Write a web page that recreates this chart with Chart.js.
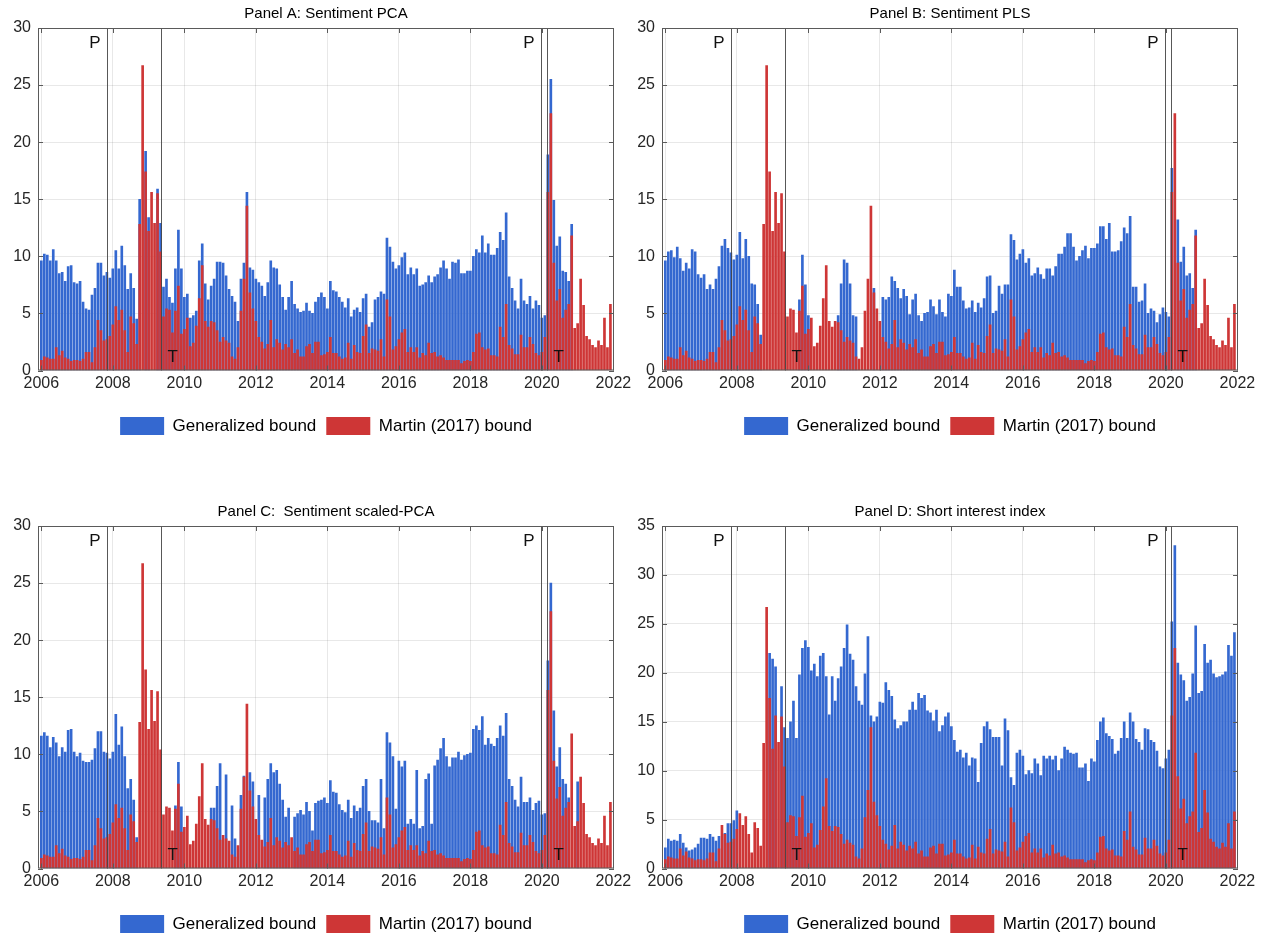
<!DOCTYPE html>
<html>
<head>
<meta charset="utf-8">
<script src="https://cdn.jsdelivr.net/npm/chart.js@4"></script>
<style>
  html, body { margin:0; padding:0; background:#fff; overflow:hidden; }
  canvas { position:absolute; }
</style>
</head>
<body>
<canvas id="panelA" width="635" height="445" style="left:0;top:0"></canvas>
<canvas id="panelB" width="635" height="445" style="left:624px;top:0"></canvas>
<canvas id="panelC" width="635" height="445" style="left:0;top:498px"></canvas>
<canvas id="panelD" width="635" height="445" style="left:624px;top:498px"></canvas>
<script>
// ===== data: monthly, Jan 2006 (index 0) .. Dec 2021 (index 191) =====
const yearTicks  = [0, 24, 48, 72, 96, 120, 144, 168, 192];
const yearLabels = ['2006','2008','2010','2012','2014','2016','2018','2020','2022'];

// NBER peak / trough markers (month index)
const recessionAt   = [21.9, 40.0, 167.8, 169.8];
const recessionTags = ['P', 'T', 'P', 'T'];

// Martin (2017) bound — same in all panels
const martinBound = [
  0.9,1.2,1.1,1.0,1.0,2.0,1.3,1.7,1.1,1.0,
  0.8,0.9,0.9,0.8,1.0,1.6,1.6,0.7,2.0,4.4,
  3.5,2.6,2.7,3.0,4.0,5.6,4.4,5.3,3.5,1.6,
  4.7,4.1,2.3,12.8,26.7,17.4,12.2,15.6,12.9,15.5,
  10.4,4.7,5.4,5.3,3.3,5.2,7.4,3.2,3.6,4.6,
  2.1,2.4,3.9,6.3,9.2,4.3,3.8,4.3,4.2,3.5,
  2.5,2.9,2.6,2.4,1.2,1.0,2.0,5.2,8.0,14.4,
  6.8,5.4,4.3,2.9,2.5,1.9,2.3,4.4,2.0,2.7,
  2.4,1.8,2.3,2.0,2.7,1.5,1.8,1.2,1.2,2.1,
  2.3,1.5,2.5,2.5,1.3,1.4,1.6,2.9,1.5,1.5,
  1.2,1.0,1.1,2.4,1.0,2.2,1.6,1.5,3.0,4.0,
  1.5,1.9,1.8,1.7,2.7,1.2,6.2,4.7,1.8,2.1,
  2.7,3.3,3.6,1.6,2.0,1.6,2.0,1.1,1.5,1.3,
  2.4,1.5,1.6,1.2,1.3,1.1,0.9,0.9,0.9,0.9,
  0.9,0.6,0.8,0.9,0.8,1.6,3.2,3.3,2.0,1.8,
  1.9,1.3,1.3,1.2,3.8,2.9,5.8,2.2,1.9,1.4,
  1.4,3.1,2.0,2.0,2.9,2.3,1.5,1.3,1.6,2.9,
  15.6,22.5,9.4,6.1,7.1,4.6,5.3,5.8,11.8,3.7,
  4.1,8.0,5.7,3.0,2.7,2.2,2.0,2.6,2.2,4.6,
  2.0,5.8
];

const _ = null;

// Generalized bound, Panel A (sentiment PCA)
const pcaBound = [
  9.6,10.2,10.1,9.6,10.6,9.6,8.5,8.6,7.8,9.1,
  9.2,7.7,7.6,7.8,6.0,5.4,5.3,6.6,7.2,9.4,
  9.4,8.3,8.6,8.1,8.9,10.5,8.9,10.9,9.2,7.1,
  8.5,7.2,4.5,15.0,_,19.2,13.4,_,_,15.9,
  12.9,7.3,8.0,6.4,5.9,8.9,12.3,8.9,6.4,6.7,
  4.6,4.8,5.2,9.6,11.1,7.6,6.2,7.4,8.0,9.5,
  9.5,9.4,8.3,7.1,6.5,6.0,4.3,8.0,9.4,15.6,
  9.0,8.8,8.0,7.7,7.4,6.5,7.7,9.6,9.0,8.9,
  7.5,6.4,5.3,6.4,7.8,5.8,5.4,5.1,5.2,5.9,
  5.2,5.0,6.0,6.4,6.8,6.4,5.4,7.8,7.0,6.9,
  6.4,6.0,5.5,6.3,4.7,5.3,5.5,5.1,6.3,6.7,
  3.8,4.2,6.2,6.4,6.9,6.7,11.6,10.8,9.5,8.9,
  9.2,9.9,10.3,8.4,9.0,8.4,8.9,7.4,7.5,7.7,
  8.3,7.7,8.2,8.4,9.0,9.6,8.9,8.0,9.5,9.4,
  9.7,8.5,8.5,8.7,8.7,10.0,10.6,10.3,11.8,10.3,
  11.1,10.1,10.1,10.7,12.1,11.4,13.8,8.2,7.2,6.1,
  5.4,8.0,6.1,5.8,6.5,5.4,6.1,5.7,4.6,4.8,
  18.9,25.5,14.9,10.9,11.7,8.7,8.6,7.8,12.8,_,
  _,_,_,_,_,_,_,_,_,_,
  _,_
];

// Generalized bound, Panel B (sentiment PLS)
const plsBound = [
  9.6,10.4,10.5,9.9,10.8,9.8,8.7,9.4,8.9,10.6,
  10.4,8.4,8.1,8.4,7.1,7.5,7.1,8.0,9.1,10.9,
  11.5,10.7,10.3,9.7,10.1,12.1,9.8,11.5,10.0,7.6,
  7.5,5.8,3.1,_,_,_,_,_,_,_,
  _,_,_,_,_,6.2,10.1,7.5,4.8,_,
  _,_,_,_,_,_,_,_,4.8,7.6,
  9.7,9.4,7.6,4.8,4.7,_,_,_,_,_,
  7.2,_,_,6.4,6.2,6.4,8.2,7.8,7.2,6.3,
  7.1,6.5,4.9,6.2,6.7,4.8,4.3,5.0,5.1,6.2,
  5.6,4.9,6.2,5.1,4.7,6.7,6.5,8.8,7.3,7.3,
  6.1,5.4,5.5,6.1,5.1,5.9,5.5,6.3,8.2,8.3,
  5.0,5.2,7.4,6.7,7.5,7.5,11.9,11.4,9.7,10.2,
  10.6,9.4,9.8,8.3,8.5,9.0,8.4,8.0,8.9,8.9,
  8.3,9.1,10.2,10.2,10.8,12.0,12.0,10.8,9.6,10.0,
  10.5,10.9,9.8,10.7,10.7,11.1,12.6,12.6,11.5,12.9,
  10.4,10.4,10.5,11.3,12.5,12.0,13.5,7.3,7.3,6.0,
  6.1,7.6,5.0,5.4,5.2,4.2,4.9,5.5,5.1,4.7,
  17.7,_,13.2,9.5,10.8,8.3,8.5,7.2,12.3,_,
  _,_,_,_,_,_,_,_,_,_,
  _,_
];

// Generalized bound, Panel C (sentiment scaled-PCA)
const scaledPcaBound = [
  11.6,11.9,11.6,10.6,11.5,11.0,9.8,10.6,10.2,12.1,
  12.2,10.2,9.8,10.1,9.4,9.3,9.3,9.5,10.5,12.0,
  12.0,10.2,10.1,9.6,10.2,13.5,10.8,12.4,9.8,7.0,
  7.8,6.0,2.7,_,_,_,_,_,_,_,
  _,_,_,_,_,5.5,9.3,5.4,_,_,
  _,_,_,_,_,_,_,5.3,5.3,7.2,
  9.2,_,8.2,_,5.5,2.6,_,6.4,8.1,_,
  8.4,7.6,_,6.4,_,6.2,7.8,9.2,8.4,8.6,
  7.4,6.0,4.5,5.3,_,4.5,4.8,5.1,4.7,5.8,
  5.0,3.3,5.7,5.9,6.0,6.2,5.7,7.7,6.7,6.6,
  5.6,5.1,4.9,6.0,4.4,5.5,5.0,5.3,7.2,7.8,
  5.0,4.2,4.2,4.0,7.8,3.5,11.9,11.0,9.8,5.2,
  9.4,8.9,9.4,3.9,4.3,3.9,8.6,3.5,3.7,7.8,
  8.3,3.9,9.0,9.5,10.5,11.4,9.8,8.9,9.7,9.7,
  10.2,9.5,9.9,10.0,10.1,12.2,12.5,12.1,13.3,10.8,
  11.4,10.9,10.7,11.4,12.5,11.6,13.6,7.8,7.2,6.0,
  5.4,8.0,5.8,5.8,6.2,5.1,5.7,5.9,4.7,4.8,
  18.2,25.0,13.8,8.9,10.6,7.8,7.4,6.2,_,_,
  7.6,_,_,_,_,_,_,_,_,_,
  _,_
];

// Generalized bound, Panel D (short interest index)
const shortInterestBound = [
  2.1,3.0,2.8,2.9,2.8,3.5,2.6,2.1,1.8,1.9,
  2.1,2.5,3.1,3.1,3.0,3.5,3.2,2.8,3.3,_,
  3.6,4.6,4.6,4.9,5.9,_,_,_,_,_,
  _,_,_,_,_,22.0,21.4,20.6,_,18.6,
  14.4,13.3,15.0,17.1,13.3,19.8,22.5,23.3,22.6,20.2,
  20.9,19.6,21.7,22.0,19.6,15.7,19.6,17.1,19.4,20.6,
  22.5,24.9,21.9,21.3,18.6,17.1,16.7,19.9,23.7,15.6,
  15.0,15.5,17.0,16.9,19.0,18.2,17.6,15.2,14.3,14.6,
  15.0,15.0,16.2,17.0,16.2,17.9,17.4,17.7,16.1,15.9,
  15.1,16.2,14.0,14.6,15.5,15.9,14.5,13.1,11.9,12.1,
  11.3,11.8,10.5,11.3,11.2,8.8,12.8,14.5,15.0,14.2,
  13.4,13.4,13.4,10.5,15.3,14.1,9.3,8.5,11.8,12.1,
  11.5,9.6,10.0,9.7,11.2,10.7,9.5,11.5,11.2,11.5,
  11.1,11.5,10.0,11.2,12.4,12.1,11.8,11.7,11.8,10.3,
  10.3,10.7,8.9,11.2,10.9,13.1,15.0,15.4,13.8,13.5,
  13.2,11.7,12.0,13.3,15.0,13.3,15.9,15.0,13.2,12.9,
  12.1,14.3,14.2,13.1,12.9,12.0,10.4,10.2,11.2,12.1,
  25.2,33.0,21.0,19.8,19.2,17.1,17.5,19.9,24.8,17.9,
  18.1,22.9,21.0,21.3,19.9,19.5,19.6,19.8,20.1,22.8,
  21.7,24.1
];

// ===== style =====
const FONT  = '"Liberation Sans", Arial, Helvetica, sans-serif';
const BLUE  = 'rgb(52,104,208)';
const RED   = 'rgb(206,54,54)';
const GRID  = 'rgba(0,0,0,0.09)';
const AXIS  = '#5a5a5a';
const TEXT  = '#262626';

const toPoints = arr => arr.map((v, i) => ({ x: i, y: v }));

// box, inside ticks, recession lines and P / T tags
const framePlugin = {
  id: 'frame',
  afterDatasetsDraw(chart) {
    const { ctx, chartArea: a, scales: { x, y } } = chart;
    ctx.save();
    // recession lines
    ctx.strokeStyle = 'rgba(70,70,70,0.9)';
    ctx.lineWidth = 1;
    ctx.font = '17px ' + FONT;
    ctx.fillStyle = '#111';
    ctx.textBaseline = 'middle';
    recessionAt.forEach((m, k) => {
      const px = Math.round(x.getPixelForValue(m)) + 0.5;
      ctx.beginPath(); ctx.moveTo(px, a.top); ctx.lineTo(px, a.bottom); ctx.stroke();
      if (recessionTags[k] === 'P') {
        ctx.textAlign = 'right';
        ctx.fillText('P', px - 7, a.top + 15);
      } else {
        ctx.textAlign = 'left';
        ctx.fillText('T', px + 6, a.bottom - 13);
      }
    });
    // box + inward ticks
    ctx.strokeStyle = AXIS;
    ctx.strokeRect(a.left + 0.5, a.top + 0.5, a.right - a.left - 1, a.bottom - a.top - 1);
    ctx.beginPath();
    y.ticks.forEach(t => {
      const py = Math.round(y.getPixelForValue(t.value)) + 0.5;
      ctx.moveTo(a.left, py); ctx.lineTo(a.left + 5, py);
      ctx.moveTo(a.right, py); ctx.lineTo(a.right - 5, py);
    });
    x.ticks.forEach(t => {
      const px = Math.round(x.getPixelForValue(t.value)) + 0.5;
      ctx.moveTo(px, a.bottom); ctx.lineTo(px, a.bottom - 5);
      ctx.moveTo(px, a.top); ctx.lineTo(px, a.top + 5);
    });
    ctx.stroke();
    ctx.restore();
  }
};

function drawPanel(id, title, generalized, yMax) {
  return new Chart(document.getElementById(id), {
    type: 'bar',
    data: {
      datasets: [
        { label: 'Generalized bound', data: toPoints(generalized), backgroundColor: BLUE,
          order: 2, grouped: false, barThickness: 2.0, borderWidth: 0 },
        { label: 'Martin (2017) bound', data: toPoints(martinBound), backgroundColor: RED,
          order: 1, grouped: false, barThickness: 2.0, borderWidth: 0 }
      ]
    },
    options: {
      responsive: false,
      animation: false,
      devicePixelRatio: 1,
      events: [],
      layout: { padding: { left: 0, right: 21, top: 0, bottom: 0 } },
      scales: {
        x: {
          type: 'linear', min: -1.12, max: 192.2, offset: false,
          afterBuildTicks: s => { s.ticks = yearTicks.map(v => ({ value: v })); },
          afterFit: s => { s.height = 36.5; },
          ticks: { callback: (v, i) => yearLabels[i], autoSkip: false, maxRotation: 0,
                   padding: 3, color: TEXT, font: { size: 16, family: FONT } },
          grid: { color: GRID, drawTicks: false, offset: false },
          border: { display: false }
        },
        y: {
          min: 0, max: yMax,
          afterFit: s => { s.width = 38; },
          ticks: { stepSize: 5, padding: 7, color: TEXT, font: { size: 16, family: FONT } },
          grid: { color: GRID, drawTicks: false },
          border: { display: false }
        }
      },
      plugins: {
        title: { display: true, text: title, fullSize: false, color: '#000',
                 font: { size: 15, weight: 'normal', family: FONT },
                 padding: { top: 5, bottom: 5 } },
        legend: { position: 'bottom', fullSize: false,
                  labels: { boxWidth: 44, boxHeight: 18, padding: 10, color: '#000',
                            font: { size: 17, family: FONT },
                            sort: (a, b) => a.datasetIndex - b.datasetIndex } },
        tooltip: { enabled: false }
      }
    },
    plugins: [framePlugin]
  });
}

drawPanel('panelA', 'Panel A: Sentiment PCA', pcaBound, 30);
drawPanel('panelB', 'Panel B: Sentiment PLS', plsBound, 30);
drawPanel('panelC', 'Panel C:  Sentiment scaled-PCA', scaledPcaBound, 30);
drawPanel('panelD', 'Panel D: Short interest index', shortInterestBound, 35);
</script>
</body>
</html>
